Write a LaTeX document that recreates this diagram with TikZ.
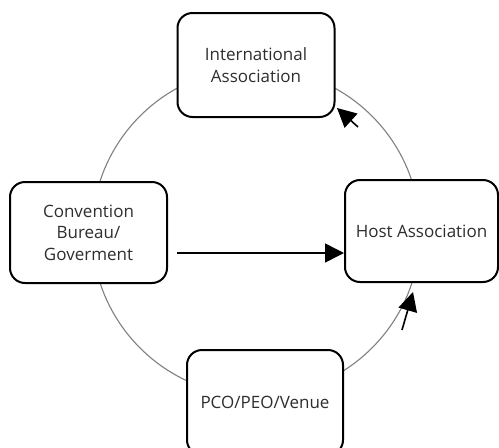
\documentclass[tikz,border=0pt]{standalone}
\usepackage{fontspec}
\setmainfont{Open Sans}
\usetikzlibrary{arrows.meta}
\definecolor{txtgray}{HTML}{2E2E2E}
\definecolor{ringgray}{HTML}{808080}
\begin{document}
\begin{tikzpicture}[x=1pt,y=-1pt,
  boxnode/.style={draw=black, line width=2pt, fill=white, rounded corners=15pt,
    align=center, text=txtgray, font=\fontsize{17}{21.5}\selectfont, inner sep=0pt},
  arr/.style={-{Triangle[length=19pt,width=19pt]}, line width=1.6pt, black}]
\useasboundingbox (0,0) rectangle (499,448);
\clip (0,0) rectangle (499,448);
\fill[white] (0,0) rectangle (499,448);
\draw[ringgray, line width=1.1pt] (256,232) circle[radius=164];
\node[boxnode, minimum width=157pt, minimum height=104pt] (intl) at (256,65) {International\\Association};
\node[boxnode, minimum width=157pt, minimum height=101pt] (conv) at (88.5,232.5) {Convention\\Bureau/\\Goverment};
\node[boxnode, minimum width=153pt, minimum height=102pt] (host) at (421.5,231) {Host Association};
\node[boxnode, minimum width=156pt, minimum height=105pt] (pco) at (265,402.5) {PCO/PEO/Venue};
\coordinate (a1s) at (358,127);
\coordinate (a1e) at (337,108);
\coordinate (a2s) at (402,330);
\coordinate (a2e) at (413,292);
\coordinate (hs) at (177,253);
\draw[arr] (a1s) -- (a1e);
\draw[arr] (a2s) -- (a2e);
\draw[arr] (hs) -- (hs -| host.west);
\end{tikzpicture}
\end{document}
